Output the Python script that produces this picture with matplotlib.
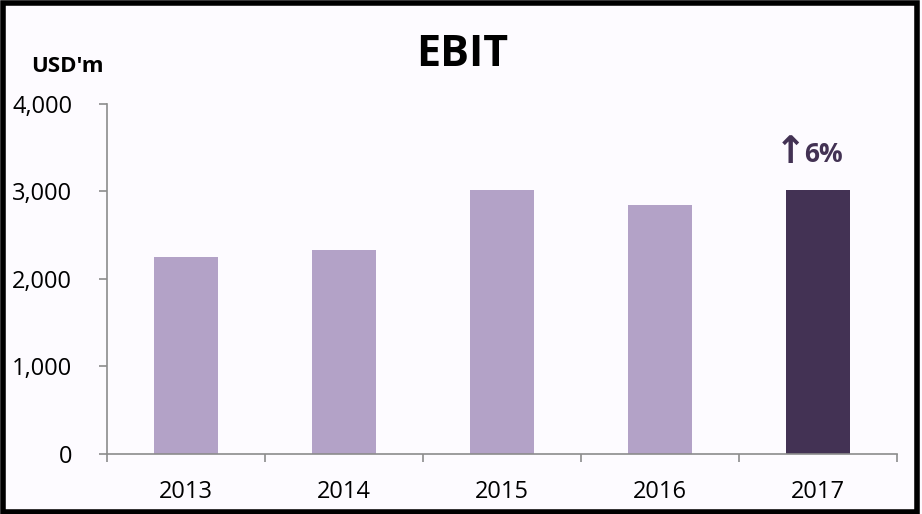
import matplotlib
matplotlib.use("Agg")
import matplotlib.pyplot as plt
from matplotlib.patches import Rectangle

# ── Data ──────────────────────────────────────────────────────────────────────
years = ["2013", "2014", "2015", "2016", "2017"]
ebit = [2245, 2335, 3015, 2845, 3010]
bar_colors = ["#B3A2C7", "#B3A2C7", "#B3A2C7", "#B3A2C7", "#433254"]
y_ticks = [0, 1000, 2000, 3000, 4000]
growth_arrow = "↑"
growth_label = "6%"

plt.rcParams["font.family"] = ["Open Sans", "DejaVu Sans"]

bg = "#FDFBFF"
axis_grey = "#8C8C8C"
dark = "#433254"

fig = plt.figure(figsize=(9.22, 5.14), dpi=100, facecolor=bg)
ax = fig.add_axes([0.116, 0.117, 0.857, 0.681], facecolor=bg)

x = range(len(years))
ax.bar(x, ebit, width=0.4, color=bar_colors, zorder=2)

ax.set_xlim(-0.5, len(years) - 0.5)
ax.set_ylim(0, 4000)
ax.set_yticks(y_ticks)
ax.set_yticklabels([f"{v:,}" for v in y_ticks], fontsize=17)
ax.set_xticks(list(x))
ax.set_xticklabels(years, fontsize=17)
ax.tick_params(axis="x", length=0, pad=19)
ax.tick_params(axis="y", length=6, width=1.2, color=axis_grey, pad=19)

# category boundary ticks on the x axis
ax.set_xticks([i - 0.5 for i in range(len(years) + 1)], minor=True)
ax.tick_params(axis="x", which="minor", length=6, width=1.2, color=axis_grey)

for side in ["top", "right"]:
    ax.spines[side].set_visible(False)
for side in ["left", "bottom"]:
    ax.spines[side].set_color(axis_grey)
    ax.spines[side].set_linewidth(1.2)

# growth annotation above the last bar
ax.annotate(growth_arrow, xy=(len(years) - 1, ebit[-1]), xytext=(-20, 27),
            textcoords="offset points", ha="center", va="center",
            fontsize=27, family="DejaVu Sans", fontweight="bold", color=dark)
ax.annotate(growth_label, xy=(len(years) - 1, ebit[-1]), xytext=(-10, 26),
            textcoords="offset points", ha="left", va="center",
            fontsize=19, fontweight="bold", color=dark)

fig.text(0.501, 0.893, "EBIT", ha="center", va="center",
         fontsize=31, fontweight="bold", color="black")
fig.text(0.073, 0.870, "USD'm", ha="center", va="center",
         fontsize=16, fontweight="bold", color="black")

# outer black frame
fig.patches.append(Rectangle((0.003, 0.004), 0.992, 0.99, transform=fig.transFigure,
                             fill=False, edgecolor="black", linewidth=4))

fig.savefig("out.png", dpi=100, facecolor=bg)
